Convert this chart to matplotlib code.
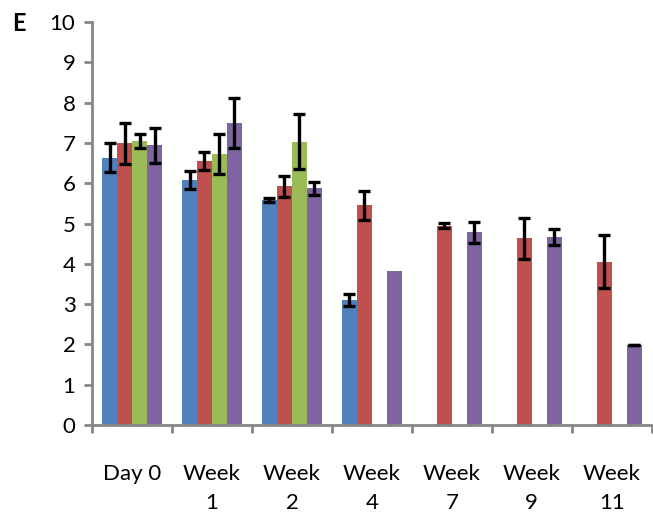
import numpy as np
import matplotlib
matplotlib.use("Agg")
import matplotlib.pyplot as plt

plt.rcParams['font.family'] = ['Lato', 'DejaVu Sans']

categories = ["Day 0", "Week\n1", "Week\n2", "Week\n4", "Week\n7", "Week\n9", "Week\n11"]

# four series (blue, red, green, purple), 0 = no bar
blue = [6.63, 6.08, 5.58, 3.10, 0, 0, 0]
red = [6.99, 6.55, 5.93, 5.45, 4.95, 4.63, 4.05]
green = [7.05, 6.72, 7.03, 0, 0, 0, 0]
purple = [6.94, 7.50, 5.87, 3.82, 4.78, 4.66, 1.98]

# nan = no error bar drawn
blue_err = [0.36, 0.22, 0.05, 0.14, 0, 0, 0]
red_err = [0.50, 0.22, 0.26, 0.36, 0.06, 0.50, 0.66]
green_err = [0.17, 0.50, 0.68, 0, 0, 0, 0]
purple_err = [0.44, 0.62, 0.15, np.nan, 0.26, 0.20, 0]

colors = ["#4F81BD", "#C0504D", "#9BBB59", "#8064A2"]

fig = plt.figure(figsize=(6.53, 5.15), dpi=100)
ax = fig.add_axes([0.141, 0.175, 0.857, 0.782])

x = np.arange(len(categories))
w = 0.1875
series = [(blue, blue_err), (red, red_err), (green, green_err), (purple, purple_err)]
for i, (vals, errs) in enumerate(series):
    pos = x + (i - 1.5) * w
    ax.bar(pos, vals, width=w, color=colors[i], zorder=2)
    # error bars only where there is a bar with an error
    for p, v, e in zip(pos, vals, errs):
        if v > 0 and not np.isnan(e):
            ax.errorbar(p, v, yerr=e, fmt='none', ecolor='black',
                        elinewidth=2.4, capsize=4.5, capthick=2.4, zorder=3)

ax.set_xlim(-0.5, len(categories) - 0.5)
ax.set_ylim(0, 10)
ax.set_yticks(range(0, 11))

# boundary ticks on x, labels at centres
ax.set_xticks(np.arange(-0.5, len(categories), 1.0))
ax.set_xticklabels([])
ax.set_xticks(x, minor=True)
ax.set_xticklabels(categories, minor=True, fontsize=16, linespacing=1.6)
ax.tick_params(axis='x', which='minor', length=0, pad=28)
ax.tick_params(axis='x', which='major', length=6, width=2, color='#868686', direction='out')
ax.tick_params(axis='y', length=6, width=2, color='#868686', labelsize=16, pad=6)

for s in ['top', 'right']:
    ax.spines[s].set_visible(False)
for s in ['left', 'bottom']:
    ax.spines[s].set_color('#868686')
    ax.spines[s].set_linewidth(2)

fig.text(0.018, 0.955, "E", fontsize=17, fontweight='bold', va='center', ha='left')

fig.savefig("out.png", dpi=100)
